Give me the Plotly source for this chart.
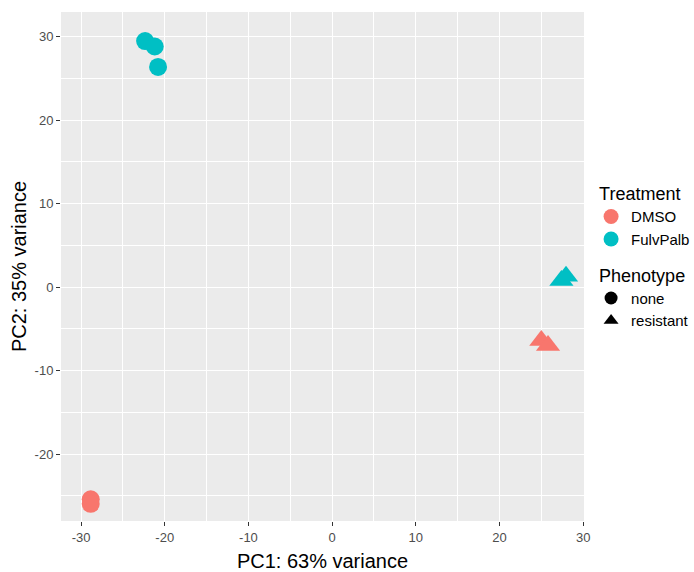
import plotly.graph_objects as go

# PCA scores per sample
treatment = ["DMSO", "DMSO", "FulvPalb", "FulvPalb", "FulvPalb",
             "DMSO", "DMSO", "FulvPalb", "FulvPalb"]
phenotype = ["none", "none", "none", "none", "none",
             "resistant", "resistant", "resistant", "resistant"]
pc1 = [-28.85, -28.85, -22.35, -21.2, -20.8, 25.0, 25.8, 27.4, 27.95]
pc2 = [-25.4, -25.95, 29.45, 28.8, 26.35, -6.4, -7.0, 0.8, 1.3]

treatment_levels = ["DMSO", "FulvPalb"]
phenotype_levels = ["none", "resistant"]
treatment_colors = {"DMSO": "#F8766D", "FulvPalb": "#00BFC4"}
phenotype_symbols = {"none": "circle", "resistant": "triangle-up"}
phenotype_sizes = {"none": 18, "resistant": 21}

# axis ticks (labels use a plain hyphen for negatives)
x_tickvals = [-30, -20, -10, 0, 10, 20, 30]
x_ticktext = ["-30", "-20", "-10", "0", "10", "20", "30"]
y_tickvals = [-20, -10, 0, 10, 20, 30]
y_ticktext = ["-20", "-10", "0", "10", "20", "30"]

x_title = "PC1: 63% variance"
y_title = "PC2: 35% variance"

FONT = "Liberation Sans, Arial, Helvetica, sans-serif"

fig = go.Figure()

# data points, one trace per treatment/phenotype combination
for t in treatment_levels:
    for p in phenotype_levels:
        idx = [i for i in range(len(pc1)) if treatment[i] == t and phenotype[i] == p]
        if not idx:
            continue
        fig.add_trace(go.Scatter(
            x=[pc1[i] for i in idx], y=[pc2[i] for i in idx],
            mode="markers",
            marker=dict(color=treatment_colors[t], symbol=phenotype_symbols[p],
                        size=phenotype_sizes[p], line=dict(width=0)),
            showlegend=False, hoverinfo="x+y",
        ))

# legend keys: colour by treatment, shape by phenotype
for t in treatment_levels:
    fig.add_trace(go.Scatter(
        x=[None], y=[None], mode="markers", name=t, legend="legend",
        marker=dict(color=treatment_colors[t], symbol="circle", size=15),
    ))
for p in phenotype_levels:
    fig.add_trace(go.Scatter(
        x=[None], y=[None], mode="markers", name=p, legend="legend2",
        marker=dict(color="black", symbol=phenotype_symbols[p], size=13),
    ))

axis_common = dict(
    showgrid=True, gridcolor="white", gridwidth=1.1,
    zeroline=False, showline=False,
    ticks="outside", ticklen=4, tickwidth=1, tickcolor="#333333",
    tickfont=dict(family=FONT, size=13, color="#4D4D4D"),
    tickmode="array",
    minor=dict(dtick=5, tick0=0, showgrid=True, gridcolor="white", gridwidth=0.5, ticks=""),
)

fig.update_layout(
    width=694, height=572,
    margin=dict(l=61, r=110, t=12, b=51, autoexpand=False),
    paper_bgcolor="white", plot_bgcolor="#EBEBEB",
    font=dict(family=FONT, color="black"),
    xaxis=dict(axis_common, range=[-32.4, 30.1],
               tickvals=x_tickvals, ticktext=x_ticktext,
               title=dict(text=x_title, font=dict(size=20, color="black"), standoff=11)),
    yaxis=dict(axis_common, range=[-28.0, 32.93],
               tickvals=y_tickvals, ticktext=y_ticktext,
               title=dict(text=y_title, font=dict(size=20, color="black"), standoff=2)),
    legend=dict(
        title=dict(text="Treatment", font=dict(size=18)),
        font=dict(size=15), x=1.025, y=0.676, xanchor="left", yanchor="top",
        bgcolor="rgba(0,0,0,0)", indentation=-6, tracegroupgap=0,
        itemsizing="trace",
    ),
    legend2=dict(
        title=dict(text="Phenotype", font=dict(size=18)),
        font=dict(size=15), x=1.025, y=0.516, xanchor="left", yanchor="top",
        bgcolor="rgba(0,0,0,0)", indentation=-6, tracegroupgap=0,
        itemsizing="trace",
    ),
)

fig.write_html("out.html")
